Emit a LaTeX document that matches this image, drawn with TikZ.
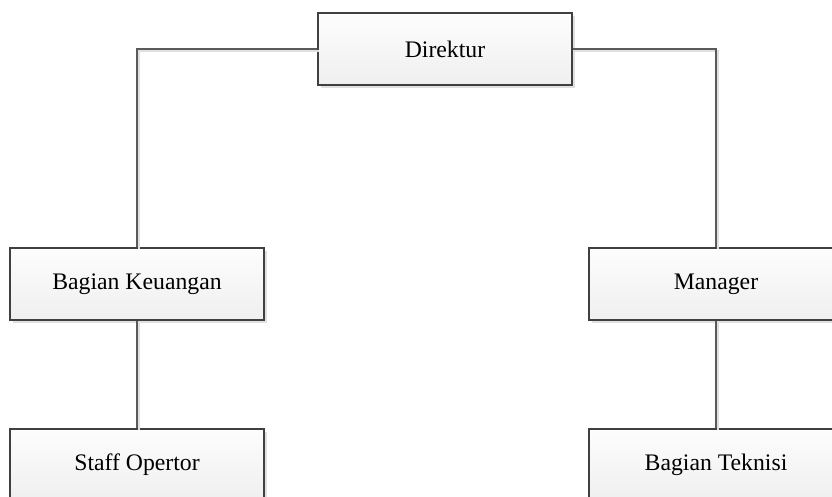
\documentclass[tikz,border=0pt]{standalone}
\usepackage{fontspec}
\setmainfont{Liberation Serif}
\usepackage{tikz}
\usetikzlibrary{shadows, positioning}

\definecolor{boxline}{HTML}{404040}
\definecolor{boxtop}{HTML}{FDFDFD}
\definecolor{boxbottom}{HTML}{EFEFEF}
\definecolor{wire}{HTML}{5A5A5A}

\tikzset{
  orgbox/.style={draw=boxline, line width=0.6pt, top color=boxtop, bottom color=boxbottom,
    minimum width=254*0.02cm, minimum height=72*0.02cm, inner sep=0pt,
    font=\fontsize{13.5}{16}\selectfont,
    drop shadow={shadow xshift=3*0.02cm, shadow yshift=-3*0.02cm, fill=black!12, opacity=1}},
  wire/.style={draw=wire, line width=0.6pt,
    preaction={draw=black!12, line width=0.8pt, transform canvas={xshift=2*0.02cm, yshift=-2*0.02cm}}}
}

\begin{document}
\begin{tikzpicture}[x=0.02cm, y=-0.02cm]

    % page frame
    \useasboundingbox (0,0) rectangle (832,497);
    \clip (0,0) rectangle (832,497);

    % boxes
    \node[orgbox] (direktur) at (445,49) {Direktur};
    \node[orgbox] (keuangan) at (137,284) {Bagian Keuangan};
    \node[orgbox] (manager) at (716,284) {Manager};
    \node[orgbox] (staff) at (137,465) {Staff Opertor};
    \node[orgbox] (teknisi) at (716,465) {Bagian Teknisi};

    % lines
    \draw[wire] (direktur.west) -| (keuangan.north);
    \draw[wire] (direktur.east) -| (manager.north);
    \draw[wire] (keuangan.south) -- (staff.north);
    \draw[wire] (manager.south) -- (teknisi.north);

\end{tikzpicture}
\end{document}
